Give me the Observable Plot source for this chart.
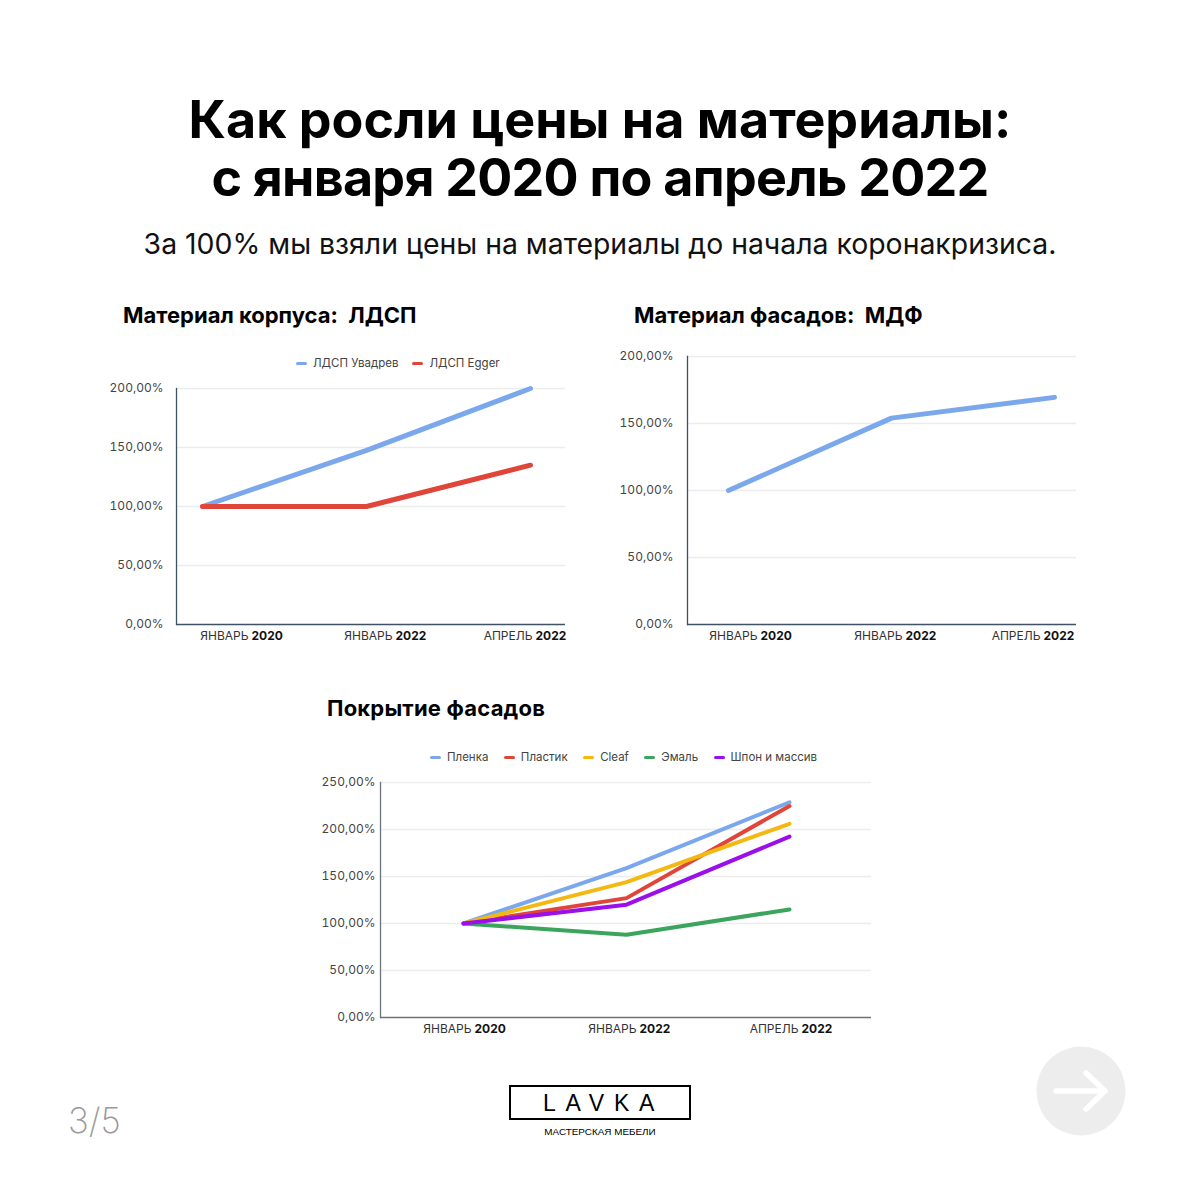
<!DOCTYPE html>
<html lang="ru"><head><meta charset="utf-8">
<script src="https://cdn.jsdelivr.net/npm/d3@7"></script>
<script src="https://cdn.jsdelivr.net/npm/@observablehq/plot@0.6"></script>
<style>
html,body{margin:0;padding:0;background:#fff}
body{position:relative;width:1200px;height:1200px;overflow:hidden;font-family:Inter,sans-serif;color:#000}
.abs{position:absolute;white-space:nowrap}
.title{left:0;width:1200px;text-align:center;font-weight:700;font-size:52px;line-height:58px}
.sub{left:0;width:1200px;text-align:center;font-size:28.4px;line-height:34px;color:#111;font-weight:400}
.ct{font-weight:700;font-size:22px;line-height:26px}
.legend{display:flex;align-items:center;font-size:11.5px;color:#444;line-height:16px}
.legend i{display:inline-block;width:11px;height:3px;border-radius:2px;margin-right:6px}
.legend span{display:flex;align-items:center}
.plotbox{position:absolute}
.plotbox svg{display:block;overflow:visible}
</style></head><body>
<div class="abs title" style="top:91px">Как росли цены на материалы:</div>
<div class="abs title" style="top:149px;letter-spacing:-0.75px">с января 2020 по апрель 2022</div>
<div class="abs sub" style="top:227px">За 100% мы взяли цены на материалы до начала коронакризиса.</div>
<div class="abs ct" style="left:123px;top:302px">Материал корпуса:&nbsp; ЛДСП</div>
<div class="abs ct" style="left:634px;top:302px">Материал фасадов:&nbsp; МДФ</div>
<div class="abs ct" style="left:327px;top:695px;letter-spacing:0.2px">Покрытие фасадов</div>
<div id="leg1" class="abs legend" style="left:296px;top:355px;gap:14px"></div>
<div id="leg3" class="abs legend" style="left:430px;top:749px;gap:15.5px"></div>
<div id="c1" class="plotbox" style="left:100px;top:340px"></div>
<div id="c2" class="plotbox" style="left:610px;top:340px"></div>
<div id="c3" class="plotbox" style="left:310px;top:760px"></div>

<div class="abs" style="left:68px;top:1097px;font-size:35px;line-height:46px;font-weight:200;color:#999">3/5</div>
<div class="abs" style="left:509px;top:1085px;width:178px;height:31px;border:2px solid #000;text-align:center;font-size:23px;line-height:33px;letter-spacing:9.7px;text-indent:7px;font-family:'Liberation Sans',sans-serif;font-weight:400">LAVKA</div>
<div class="abs" style="left:500px;width:200px;text-align:center;top:1126px;font-size:9.9px;line-height:12px;font-family:'Liberation Sans',sans-serif">МАСТЕРСКАЯ МЕБЕЛИ</div>
<svg class="abs" style="left:1036px;top:1046px" width="90" height="90" viewBox="0 0 90 90">
<circle cx="45" cy="45" r="44.5" fill="#ededed"/>
<path d="M20 45H68M50 27L69 45L50 63" fill="none" stroke="#fff" stroke-width="5.5" stroke-linecap="round" stroke-linejoin="round"/>
</svg>

<script>
const months = ["ЯНВАРЬ", "ЯНВАРЬ", "АПРЕЛЬ"];
const years = ["2020", "2022", "2022"];
const periods = ["ЯНВАРЬ 2020", "ЯНВАРЬ 2022", "АПРЕЛЬ 2022"];

const ldspUvadrev = [100, 147.5, 200];
const ldspEgger = [100, 100, 135];
const mdf = [100, 154, 169.5];
const plenka = [100, 159, 229];
const plastik = [100, 127, 225];
const cleaf = [100, 144, 206];
const emal = [100, 88, 115];
const shpon = [100, 120, 192.5];

const blue = "#7ba7ec", red = "#e0453a", yellow = "#f4b911", green = "#3ba55d", purple = "#9b0fe8";

const fontFamily = "Inter, sans-serif";
const fmt = d => d3.format(".2f")(d).replace(".", ",") + "%";

function chart(el, o) {
  const rows = o.series.flatMap(s => periods.map((p, i) => ({period: p, value: s.values[i], name: s.name})));
  const labels = periods.map((p, i) => [
    Plot.text([p], {x: d => d, y: 0, text: () => months[i], textAnchor: "end", dx: o.labelDx[i], dy: 12, fontSize: 12, fill: "#333", fontFamily}),
    Plot.text([p], {x: d => d, y: 0, text: () => years[i], textAnchor: "start", dx: o.labelDx[i] + 3, dy: 12, fontSize: 12, fontWeight: 700, fill: "#111", fontFamily})
  ]);
  const svg = Plot.plot({
    width: o.width, height: o.height,
    marginLeft: o.ml, marginRight: o.mr, marginTop: o.mt, marginBottom: o.mb,
    style: {background: "transparent", fontFamily, overflow: "visible"},
    x: {type: "point", domain: periods, range: o.xRange, padding: 0, axis: null},
    y: {domain: o.yDomain, axis: null},
    color: {domain: o.series.map(s => s.name), range: o.series.map(s => s.color)},
    marks: [
      Plot.ruleY(o.yTicks.filter(d => d > 0), {stroke: "#ebecee", strokeWidth: 1.5}),
      Plot.axisY({ticks: o.yTicks, label: null, tickSize: 0, tickPadding: o.tickPad, tickFormat: fmt, fontSize: 12, dy: -0.5, fill: "#444", fontFamily}),
      Plot.line(rows, {x: "period", y: "value", z: "name", stroke: "name", strokeWidth: o.sw, strokeLinecap: "round", strokeLinejoin: "round"}),
      Plot.ruleY([0], {stroke: o.axisColor, strokeWidth: 1.3}),
      Plot.frame({anchor: "left", stroke: o.axisColor, strokeWidth: 1.3}),
      ...labels
    ]
  });
  document.getElementById(el).appendChild(svg);
}

function legend(el, series) {
  const box = document.getElementById(el);
  series.forEach(s => {
    const sp = document.createElement("span");
    const sw = document.createElement("i");
    sw.style.background = s.color;
    sp.appendChild(sw);
    sp.appendChild(document.createTextNode(s.name));
    box.appendChild(sp);
  });
}

const s1 = [{name: "ЛДСП Увадрев", values: ldspUvadrev, color: blue}, {name: "ЛДСП Egger", values: ldspEgger, color: red}];
const s2 = [{name: "МДФ", values: mdf, color: blue}];
const s3 = [
  {name: "Пленка", values: plenka, color: blue},
  {name: "Пластик", values: plastik, color: red},
  {name: "Cleaf", values: cleaf, color: yellow},
  {name: "Эмаль", values: emal, color: green},
  {name: "Шпон и массив", values: shpon, color: purple}
];

chart("c1", {series: s1, width: 480, height: 310, ml: 76, mr: 15, mt: 48, mb: 26,
  xRange: [102, 430], yDomain: [0, 200], yTicks: [0, 50, 100, 150, 200], sw: 5, tickPad: 13,
  axisColor: "#3f5166", labelDx: [46, 26, 2]});
chart("c2", {series: s2, width: 480, height: 310, ml: 77, mr: 14, mt: 16, mb: 26,
  xRange: [118, 444], yDomain: [0, 200], yTicks: [0, 50, 100, 150, 200], sw: 5, tickPad: 14,
  axisColor: "#3f5166", labelDx: [29, 11, -14]});
chart("c3", {series: s3, width: 580, height: 280, ml: 70, mr: 19, mt: 22, mb: 23,
  xRange: [152, 479], yDomain: [0, 250], yTicks: [0, 50, 100, 150, 200, 250], sw: 4, tickPad: 5,
  axisColor: "#6b7278", labelDx: [8, 10, 9]});
legend("leg1", s1);
legend("leg3", s3);
</script>
</body></html>
